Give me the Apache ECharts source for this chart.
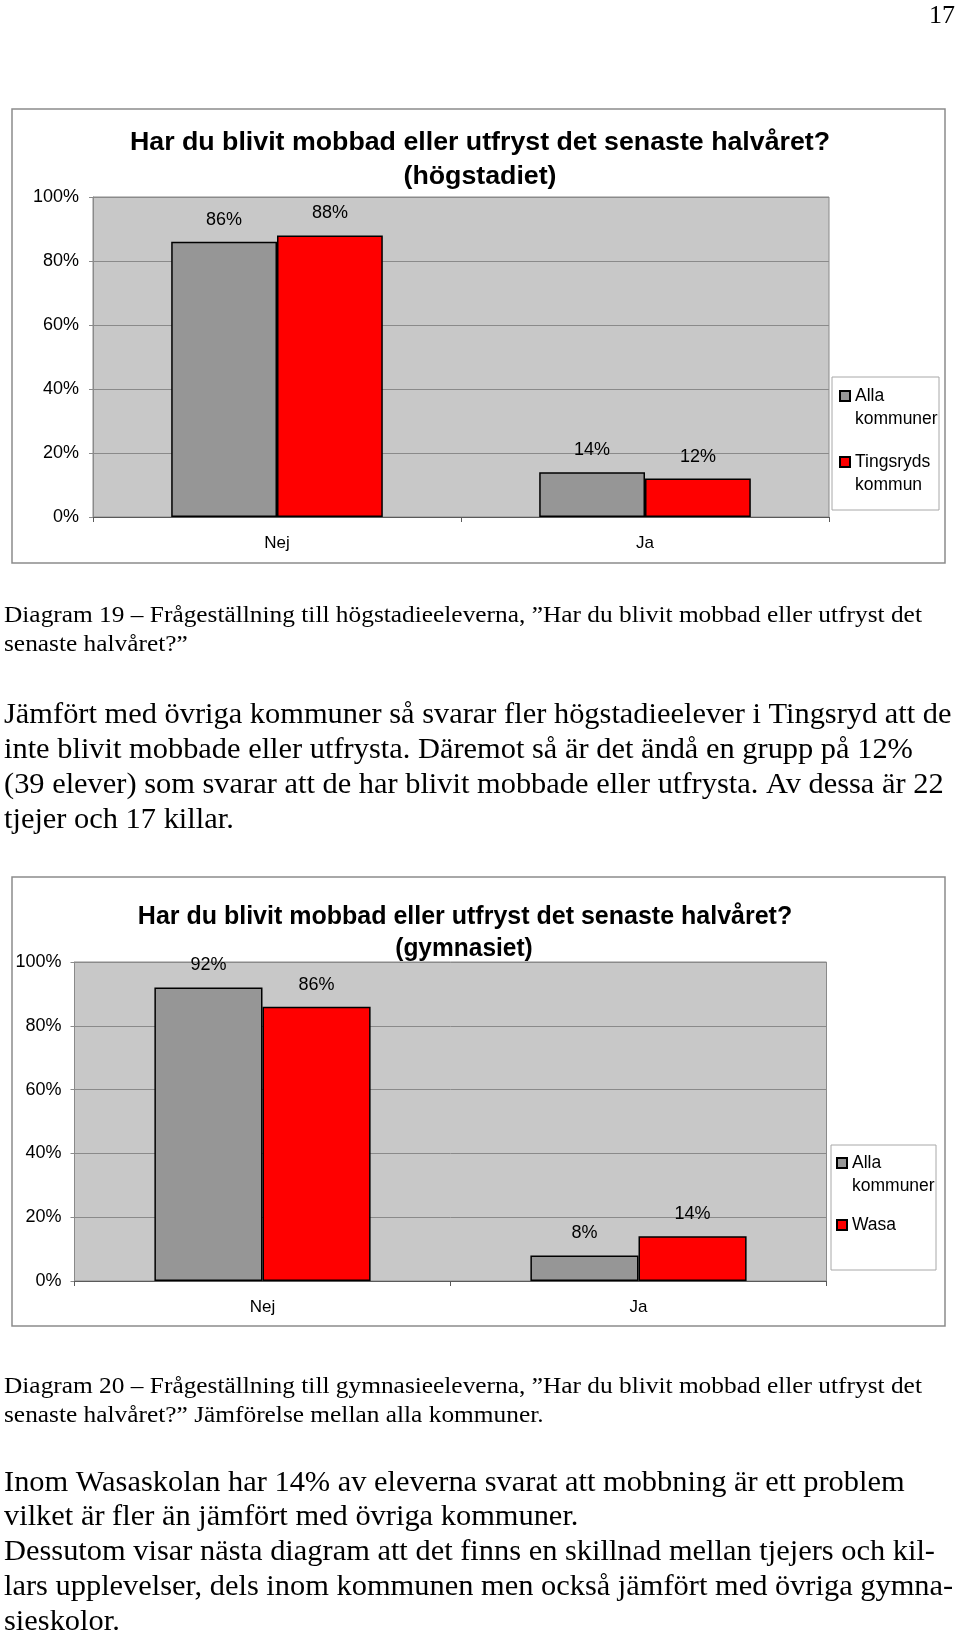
<!DOCTYPE html>
<html><head><meta charset="utf-8">
<script src="https://cdn.jsdelivr.net/npm/echarts@6/dist/echarts.min.js"></script>
<style>html,body{margin:0;padding:0;background:#fff}#c{width:960px;height:1632px}</style>
</head><body><div id="c"></div>
<script>
// ---- data ----
const categories = ['Nej', 'Ja'];
const yTickStep = 20;
const yMax = 100;

const chart1Title = ['Har du blivit mobbad eller utfryst det senaste halvåret?', '(högstadiet)'];
const chart1Names = ['Alla kommuner', 'Tingsryds kommun'];
const chart1Alla = [86, 14];
const chart1Tingsryd = [88, 12];

const chart2Title = ['Har du blivit mobbad eller utfryst det senaste halvåret?', '(gymnasiet)'];
const chart2Names = ['Alla kommuner', 'Wasa'];
const chart2Alla = [92, 8];
const chart2Wasa = [86, 14];

const pageNumber = '17';
const caption1 = ['Diagram 19 – Frågeställning till högstadieeleverna, ”Har du blivit mobbad eller utfryst det',
  'senaste halvåret?”'];
const body1 = ['Jämfört med övriga kommuner så svarar fler högstadieelever i Tingsryd att de',
  'inte blivit mobbade eller utfrysta. Däremot så är det ändå en grupp på 12%',
  '(39 elever) som svarar att de har blivit mobbade eller utfrysta. Av dessa är 22',
  'tjejer och 17 killar.'];
const caption2 = ['Diagram 20 – Frågeställning till gymnasieeleverna, ”Har du blivit mobbad eller utfryst det',
  'senaste halvåret?” Jämförelse mellan alla kommuner.'];
const body2 = ['Inom Wasaskolan har 14% av eleverna svarat att mobbning är ett problem',
  'vilket är fler än jämfört med övriga kommuner.',
  'Dessutom visar nästa diagram att det finns en skillnad mellan tjejers och kil-',
  'lars upplevelser, dels inom kommunen men också jämfört med övriga gymna-',
  'sieskolor.'];

// ---- styling ----
const SANS = '"Liberation Sans", Arial, sans-serif';
const SERIF = '"Liberation Serif", "Times New Roman", serif';
const GRAY = '#969696', RED = '#ff0000';

const chart = echarts.init(document.getElementById('c'));

function xAxisFor(gi) {
  return {
    type: 'category', gridIndex: gi, data: categories,
    axisLine: { lineStyle: { color: '#5a5a5a', width: 1 } },
    axisTick: { show: true, length: 5, lineStyle: { color: '#5a5a5a' } },
    axisLabel: { color: '#000', fontFamily: SANS, fontSize: 17, margin: 18 },
    splitLine: { show: false }
  };
}
function yAxisFor(gi, margin) {
  return {
    type: 'value', gridIndex: gi, min: 0, max: yMax, interval: yTickStep,
    axisLine: { show: true, lineStyle: { color: '#8a8a8a' } },
    axisTick: { show: true, length: 4, lineStyle: { color: '#8a8a8a' } },
    axisLabel: { color: '#000', fontFamily: SANS, fontSize: 18, margin: margin, formatter: '{value}%' },
    splitLine: { show: true, lineStyle: { color: '#8a8a8a', width: 1 } }
  };
}
function barSeries(name, data, color, gi) {
  return {
    type: 'bar', name: name, data: data, xAxisIndex: gi, yAxisIndex: gi,
    barGap: '0%', barCategoryGap: '42.5%',
    itemStyle: { color: color, borderColor: '#000', borderWidth: 1.5 },
    label: { show: true, position: 'top', distance: 13, formatter: '{c}%', color: '#000', fontFamily: SANS, fontSize: 18 },
    emphasis: { disabled: true }, animation: false
  };
}
// two-word names wrap; an empty first line keeps the icon level with the first text line
const legendFmt = n => n.indexOf(' ') >= 0 ? '\n' + n.replace(' ', '\n') : n;
function legendFor(names, left, top, gap) {
  return {
    orient: 'vertical', left: left, top: top, padding: 0, itemGap: gap,
    itemWidth: 10, itemHeight: 10, icon: 'rect', selectedMode: false,
    formatter: legendFmt,
    textStyle: { fontFamily: SANS, fontSize: 17.5, color: '#000', lineHeight: 23 },
    data: names
  };
}

const graphics = [];
// chart frames
graphics.push({ type: 'rect', z: -5, shape: { x: 12, y: 109, width: 933, height: 454 },
  style: { fill: '#fff', stroke: '#8c8c8c', lineWidth: 1.5 } });
graphics.push({ type: 'rect', z: -5, shape: { x: 12, y: 877, width: 933, height: 449 },
  style: { fill: '#fff', stroke: '#8c8c8c', lineWidth: 1.5 } });
// legend boxes
graphics.push({ type: 'rect', z: 1, shape: { x: 832, y: 377, width: 107, height: 133 },
  style: { fill: '#fff', stroke: '#a8a8a8', lineWidth: 1 } });
graphics.push({ type: 'rect', z: 1, shape: { x: 831, y: 1145, width: 105, height: 125 },
  style: { fill: '#fff', stroke: '#a8a8a8', lineWidth: 1 } });

function txt(text, x, y, font, size, sx, opts) {
  graphics.push({ type: 'text', z: 10, x: x, y: y, scaleX: sx, scaleY: 1,
    style: { text: text, x: 0, y: 0, fill: '#000',
      font: (opts && opts.bold ? 'bold ' : '') + size + 'px ' + font,
      textAlign: (opts && opts.align) || 'left', textVerticalAlign: 'middle' } });
}
// chart titles
txt(chart1Title[0], 480, 143, SANS, 25, 1.07, { bold: true, align: 'center' });
txt(chart1Title[1], 480, 177, SANS, 25, 1.07, { bold: true, align: 'center' });
txt(chart2Title[0], 465, 917, SANS, 25, 1.0, { bold: true, align: 'center' });
txt(chart2Title[1], 464, 949, SANS, 25, 0.98, { bold: true, align: 'center' });
// page text
txt(pageNumber, 955, 16, SERIF, 26, 1, { align: 'right' });
caption1.forEach((l, i) => txt(l, 4, 616 + 29 * i, SERIF, 24, 1.057));
body1.forEach((l, i) => txt(l, 4, 715 + 35 * i, SERIF, 29, 1.049));
caption2.forEach((l, i) => txt(l, 4, 1387 + 29 * i, SERIF, 24, 1.057));
body2.forEach((l, i) => txt(l, 4, 1483 + 34.8 * i, SERIF, 29, 1.049));

chart.setOption({
  animation: false,
  grid: [
    { left: 93, top: 197, width: 736, height: 320, show: true, backgroundColor: '#c8c8c8', borderColor: '#8a8a8a', borderWidth: 1 },
    { left: 74.5, top: 962, width: 752, height: 319, show: true, backgroundColor: '#c8c8c8', borderColor: '#8a8a8a', borderWidth: 1 }
  ],
  xAxis: [xAxisFor(0), xAxisFor(1)],
  yAxis: [yAxisFor(0, 14), yAxisFor(1, 13)],
  legend: [legendFor(chart1Names, 839, 361.5, -3), legendFor(chart2Names, 836, 1128.5, 16)],
  series: [
    barSeries(chart1Names[0], chart1Alla, GRAY, 0),
    barSeries(chart1Names[1], chart1Tingsryd, RED, 0),
    barSeries(chart2Names[0], chart2Alla, GRAY, 1),
    barSeries(chart2Names[1], chart2Wasa, RED, 1)
  ],
  graphic: graphics
});
</script></body></html>
